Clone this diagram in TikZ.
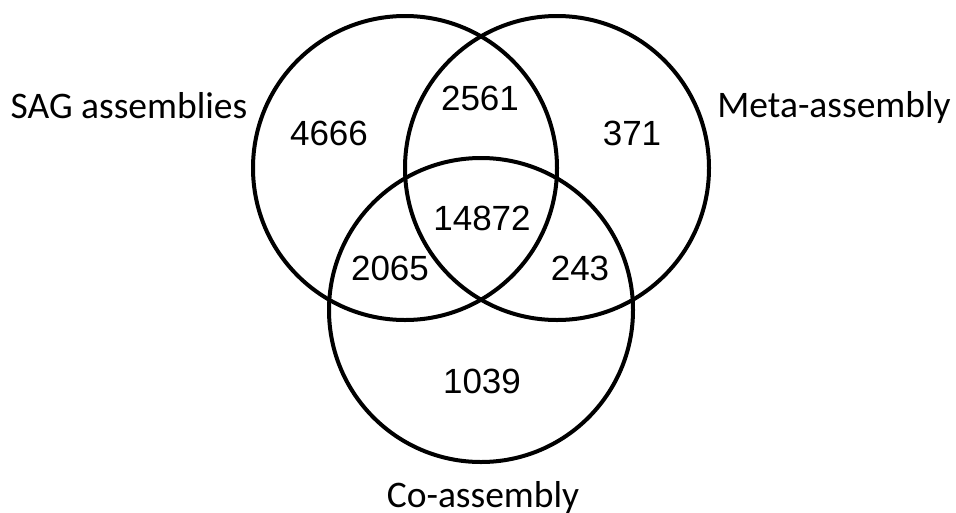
\documentclass[tikz,border=0pt]{standalone}
\usepackage{fontspec}
\setmainfont{Liberation Sans}
\newfontfamily\labelfont{Carlito}
\begin{document}
\begin{tikzpicture}[x=1pt,y=-1pt,
  setcircle/.style={draw=black,line width=4pt,circle,minimum size=304pt,inner sep=0pt},
  count/.style={anchor=base,inner sep=0pt,font=\fontsize{35}{35}\selectfont},
  setname/.style={anchor=base,inner sep=0pt,font=\labelfont\fontsize{37.5}{37.5}\selectfont}]
\useasboundingbox (0,0) rectangle (956,512);
% the three sets
\node[setcircle] (sag) at (405,168) {};
\node[setcircle] (meta) at (557,168) {};
\node[setcircle] (co) at (481,310) {};
% region counts
\node[count] (n4666) at (329,145) {4666};
\node[count] (n2561) at (480,110) {2561};
\node[count] (n371) at (632,145) {371};
\node[count] (n14872) at (482,230) {14872};
\node[count] (n2065) at (390,280) {2065};
\node[count] (n243) at (580,280) {243};
\node[count] (n1039) at (482,393) {1039};
% set names
\node[setname] (lsag) at (129,118) {SAG assemblies};
\node[setname] (lmeta) at (834,117) {Meta-assembly};
\node[setname] (lco) at (483,507) {Co-assembly};
\end{tikzpicture}
\end{document}
